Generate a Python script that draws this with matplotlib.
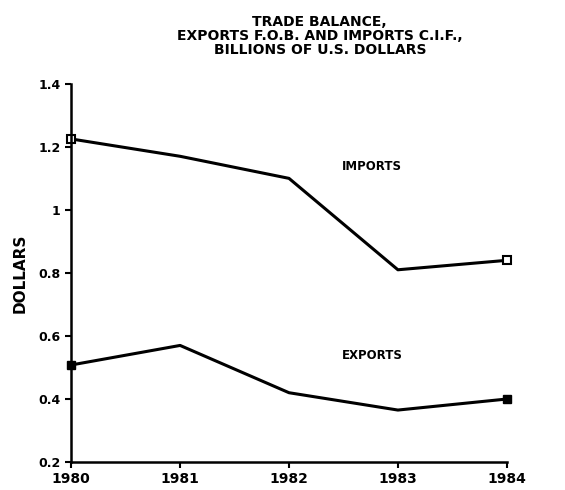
import matplotlib
matplotlib.use("Agg")
import matplotlib.pyplot as plt

plt.rcParams['font.family'] = ['DejaVu Sans']
plt.rcParams['font.weight'] = 'bold'

years = [1980, 1981, 1982, 1983, 1984]
imports = [1.225, 1.17, 1.10, 0.81, 0.84]
exports = [0.508, 0.57, 0.42, 0.365, 0.40]
y_ticks = [0.2, 0.4, 0.6, 0.8, 1.0, 1.2, 1.4]
y_labels = ['0.2', '0.4', '0.6', '0.8', '1', '1.2', '1.4']

fig = plt.figure(figsize=(5.65, 4.9), dpi=100)
ax = fig.add_axes([0.126, 0.057, 0.771, 0.772])

ax.plot(years, imports, color='black', lw=2.2, marker='s', markevery=[0, 4],
        markersize=6, markerfacecolor='white', markeredgewidth=1.5, clip_on=False)
ax.plot(years, exports, color='black', lw=2.2, marker='s', markevery=[0, 4],
        markersize=6, markerfacecolor='black', clip_on=False)

ax.text(1982.49, 1.137, 'IMPORTS', fontsize=8.5, fontweight='bold', ha='left', va='center')
ax.text(1982.49, 0.537, 'EXPORTS', fontsize=8.5, fontweight='bold', ha='left', va='center')

ax.set_xlim(1980, 1984)
ax.set_ylim(0.2, 1.4)
ax.set_xticks(years)
ax.set_xticklabels([str(y) for y in years], fontsize=10, fontweight='bold')
ax.set_yticks(y_ticks)
ax.set_yticklabels(y_labels, fontsize=9, fontweight='bold')
ax.tick_params(direction='out', length=4, width=1.5)
ax.tick_params(axis='x', pad=3)
ax.spines['top'].set_visible(False)
ax.spines['right'].set_visible(False)
ax.spines['left'].set_linewidth(1.8)
ax.spines['bottom'].set_linewidth(1.8)
ax.set_ylabel('DOLLARS', fontsize=11, fontweight='bold', labelpad=8)

fig.text(0.566, 0.927, 'TRADE BALANCE,\nEXPORTS F.O.B. AND IMPORTS C.I.F.,\nBILLIONS OF U.S. DOLLARS',
         ha='center', va='center', fontsize=10, fontweight='bold', linespacing=1.0)

fig.savefig('out.png', dpi=100)
